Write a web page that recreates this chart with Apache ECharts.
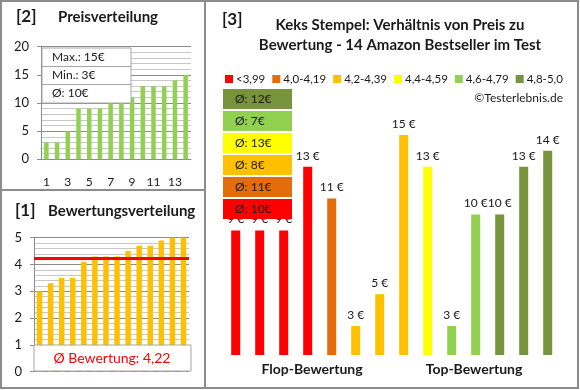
<!DOCTYPE html>
<html><head><meta charset="utf-8">
<script src="https://cdn.jsdelivr.net/npm/echarts@6/dist/echarts.min.js"></script>
<style>html,body{margin:0;padding:0;background:#fff}#c{width:580px;height:390px}</style>
</head><body><div id="c"></div>
<script>
// ---- data ----
const priceCategories = ['1','2','3','4','5','6','7','8','9','10','11','12','13','14'];
const sortedPrices = [3,3,5,9,9,9,10,10,11,13,13,13,14,15];
const ratings = [3.0,3.3,3.5,3.5,4.1,4.3,4.3,4.3,4.5,4.7,4.7,4.9,5.0,5.0];
const productPrices = [9,9,9,13,11,3,5,15,13,3,10,10,13,14];
const groupNames = ['<3,99','4,0-4,19','4,2-4,39','4,4-4,59','4,6-4,79','4,8-5,0'];
const groupLimits = [4.0,4.2,4.4,4.6,4.8,99];
const priceTicks = [0,5,10,15,20];
const ratingTicks = [0,1,2,3,4,5];

// ---- style ----
const groupColors = ['#FF0000','#E46C0A','#FFC000','#FFFF00','#92D050','#77933C'];
const FONT = 'Lato, "Open Sans", sans-serif';
const txt = '#1a1a1a';

// derived
const groupOf = ratings.map(r => groupLimits.findIndex(l => r < l));
const groupAvg = groupNames.map((_, g) => {
  const v = productPrices.filter((p, i) => groupOf[i] === g);
  return Math.round(v.reduce((a, b) => a + b, 0) / v.length);
});
const pMax = Math.max(...sortedPrices), pMin = Math.min(...sortedPrices);
const pAvg = Math.round(sortedPrices.reduce((a,b)=>a+b,0)/sortedPrices.length);
const rAvg = ratings.reduce((a,b)=>a+b,0)/ratings.length;

const chart = echarts.init(document.getElementById('c'), null, {renderer:'canvas'});

const rightSeries = groupNames.map((name, g) => ({
  name, type:'bar', xAxisIndex:2, yAxisIndex:2, barWidth:9, barGap:'-100%',
  itemStyle:{color:groupColors[g]},
  label:{show:true, position:'top', distance:5, formatter:'{c} €', fontFamily:FONT, fontSize:12, color:txt},
  data: productPrices.map((p, i) => groupOf[i] === g ? p : '-')
}));

const gray = '#8c8c8c';
const graphic = [];
// frame
graphic.push({type:'rect', z:100, shape:{x:1,y:1,width:577,height:387}, style:{fill:'none', stroke:gray, lineWidth:2}});
graphic.push({type:'line', z:100, shape:{x1:205,y1:1,x2:205,y2:388}, style:{stroke:gray, lineWidth:2}});
graphic.push({type:'line', z:100, shape:{x1:1,y1:190,x2:205,y2:190}, style:{stroke:gray, lineWidth:2}});
// titles left
graphic.push({type:'text', z:100, left:16, top:8, style:{text:'[2]', font:'bold 17px '+FONT, fill:txt}});
graphic.push({type:'text', z:100, left:58, top:10, style:{text:'Preisverteilung', font:'bold 15px '+FONT, fill:txt}});
graphic.push({type:'text', z:100, left:15, top:202, style:{text:'[1]', font:'bold 17px '+FONT, fill:txt}});
graphic.push({type:'text', z:100, left:48, top:204, style:{text:'Bewertungsverteilung', font:'bold 15px '+FONT, fill:txt}});
// stats box top-left
graphic.push({type:'rect', z:100, shape:{x:42,y:48,width:89,height:55}, style:{fill:'#fff', stroke:'#a6a6a6', lineWidth:1}});
graphic.push({type:'line', z:100, shape:{x1:42,y1:66.5,x2:131,y2:66.5}, style:{stroke:'#a6a6a6', lineWidth:1}});
graphic.push({type:'line', z:100, shape:{x1:42,y1:84.5,x2:131,y2:84.5}, style:{stroke:'#a6a6a6', lineWidth:1}});
[['Max.: '+pMax+'€',57.5],['Min.: '+pMin+'€',75.5],['Ø: '+pAvg+'€',93.5]].forEach(([t,y])=>{
  graphic.push({type:'text', z:101, x:52, y:y, style:{text:t, font:'12px '+FONT, fill:txt, textVerticalAlign:'middle'}});
});
// rating avg box
graphic.push({type:'rect', z:100, shape:{x:34,y:345,width:157,height:26}, style:{fill:'#fff', stroke:'#a6a6a6', lineWidth:1}});
graphic.push({type:'text', z:101, x:112, y:358.5, style:{text:'Ø Bewertung: '+rAvg.toFixed(2).replace('.',','), font:'14px '+FONT, fill:'#FF0000', textAlign:'center', textVerticalAlign:'middle'}});
// right titles
graphic.push({type:'text', z:100, left:222, top:11, style:{text:'[3]', font:'bold 17px '+FONT, fill:txt}});
graphic.push({type:'text', z:100, x:400, y:25, style:{text:'Keks Stempel: Verhältnis von Preis zu', font:'bold 15px '+FONT, fill:txt, textAlign:'center', textVerticalAlign:'middle'}});
graphic.push({type:'text', z:100, x:400, y:45, style:{text:'Bewertung - 14 Amazon Bestseller im Test', font:'bold 15px '+FONT, fill:txt, textAlign:'center', textVerticalAlign:'middle'}});
graphic.push({type:'text', z:100, x:563, y:98, style:{text:'©Testerlebnis.de', font:'12px '+FONT, fill:txt, textAlign:'right', textVerticalAlign:'middle'}});
// group average boxes (top: last group)
for (let k = 0; k < 6; k++) {
  const g = 5 - k;
  const y = 89 + k * 22;
  graphic.push({type:'rect', z:100, shape:{x:223,y:y,width:69,height:20}, style:{fill:groupColors[g]}});
  graphic.push({type:'text', z:101, x:235, y:y+10, style:{text:'Ø: '+groupAvg[g]+'€', font:'12px '+FONT, fill:txt, textVerticalAlign:'middle'}});
}
graphic.push({type:'text', z:100, x:312, y:369, style:{text:'Flop-Bewertung', font:'bold 14px '+FONT, fill:txt, textAlign:'center', textVerticalAlign:'middle'}});
graphic.push({type:'text', z:100, x:474, y:369, style:{text:'Top-Bewertung', font:'bold 14px '+FONT, fill:txt, textAlign:'center', textVerticalAlign:'middle'}});

const option = {
  animation:false,
  textStyle:{fontFamily:FONT},
  legend:{
    left:225, top:73, width:400, itemWidth:8, itemHeight:8, itemGap:7, icon:'rect', padding:0,
    textStyle:{fontFamily:FONT, fontSize:11.5, color:txt, padding:[0,0,0,-2]},
    data: groupNames
  },
  grid:[
    {left:41, top:46.7, width:150, height:112.6},
    {left:34, top:237.7, width:155, height:134},
    {left:223.7, top:119, width:336, height:236}
  ],
  xAxis:[
    {gridIndex:0, type:'category', data:priceCategories,
     axisLine:{lineStyle:{color:gray}}, axisTick:{show:false},
     axisLabel:{interval:1, margin:17, fontSize:12, color:txt, fontFamily:FONT}},
    {gridIndex:1, type:'category', data:priceCategories,
     axisLine:{show:false}, axisTick:{show:false}, axisLabel:{show:false}},
    {gridIndex:2, type:'category', data:priceCategories, show:false}
  ],
  yAxis:[
    {gridIndex:0, type:'value', min:priceTicks[0], max:priceTicks[priceTicks.length-1], interval:priceTicks[1]-priceTicks[0],
     axisLine:{show:true, lineStyle:{color:gray}}, axisTick:{show:true, length:4, lineStyle:{color:gray}},
     axisLabel:{margin:12, fontSize:13, color:txt, fontFamily:FONT},
     splitLine:{lineStyle:{color:'#8c8c8c'}},
     minorTick:{show:false, splitNumber:5},
     minorSplitLine:{show:true, lineStyle:{color:'#c8c8c8'}}},
    {gridIndex:1, type:'value', min:ratingTicks[0], max:ratingTicks[ratingTicks.length-1], interval:1,
     axisLine:{show:true, lineStyle:{color:gray}}, axisTick:{show:true, length:4, lineStyle:{color:gray}},
     axisLabel:{margin:12, fontSize:13, color:txt, fontFamily:FONT},
     splitLine:{lineStyle:{color:'#8c8c8c'}},
     minorTick:{show:false, splitNumber:5},
     minorSplitLine:{show:true, lineStyle:{color:'#c8c8c8'}}},
    {gridIndex:2, type:'value', min:1.18, max:16, show:false, splitLine:{show:false}}
  ],
  series:[
    {type:'bar', xAxisIndex:0, yAxisIndex:0, barWidth:4.5, itemStyle:{color:'#92D050'}, data:sortedPrices, silent:true},
    {type:'bar', xAxisIndex:1, yAxisIndex:1, barWidth:5.5, itemStyle:{color:'#FFC000'}, data:ratings, silent:true,
     markLine:{silent:true, symbol:'none', label:{show:false}, lineStyle:{color:'#FF0000', width:3, type:'solid'},
       data:[{yAxis:rAvg}]}}
  ].concat(rightSeries),
  graphic
};
chart.setOption(option);
</script>
</body></html>
